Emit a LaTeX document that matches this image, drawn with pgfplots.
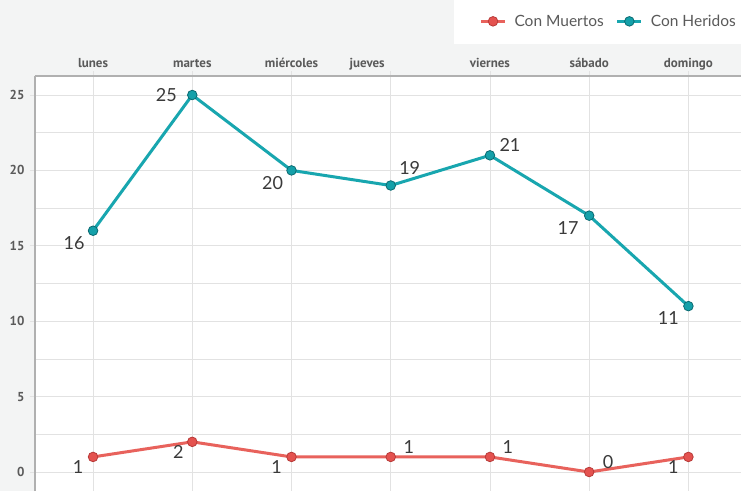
\documentclass[border=0pt]{standalone}
\usepackage{fontspec}
\setmainfont{Lato}
\newfontfamily\tickfont{PT Sans}
\usepackage{pgfplots}
\pgfplotsset{compat=1.18}
\definecolor{bg}{HTML}{F3F4F4}
\definecolor{gridc}{HTML}{E2E2E2}
\definecolor{axisc}{HTML}{B0B0B0}
\definecolor{tickc}{HTML}{5A5A5A}
\definecolor{labc}{HTML}{3A3A3A}
\definecolor{redl}{HTML}{E8625C}
\definecolor{redf}{HTML}{E4524F}
\definecolor{redd}{HTML}{B83A38}
\definecolor{teall}{HTML}{18A6AF}
\definecolor{tealf}{HTML}{14A0A9}
\definecolor{teald}{HTML}{0B6A71}
\begin{document}
\begin{tikzpicture}[x=1pt,y=1pt]
\fill[bg] (0pt,0pt) rectangle (741pt,-491pt);
\fill[white] (454pt,0pt) rectangle (741pt,-44pt);
\begin{axis}[
  at={(35pt,-76pt)}, anchor=north west,
  scale only axis, width=706pt, height=415pt,
  xmin=-0.585, xmax=6.53, ymin=-1.26, ymax=26.26,
  axis x line*=top, axis y line*=left,
  axis line style={draw=axisc, line width=1.3pt},
  axis background/.style={fill=white},
  xtick={0,...,6},
  xticklabels={lunes,martes,miércoles,{\llap{jueves\hspace{6pt}}},viernes,sábado,domingo},
  ytick={0,5,...,25},
  minor ytick={2.5,7.5,...,22.5},
  grid=both,
  grid style={draw=gridc, line width=0.8pt},
  minor grid style={draw=gridc, line width=0.8pt},
  tick align=outside, major tick length=5pt, minor tick length=0pt,
  tick style={draw=gridc, line width=0.8pt},
  /pgf/number format/assume math mode=true,
  ticklabel style={font=\tickfont\bfseries\fontsize{13}{13}\selectfont, text=tickc},
  yticklabel style={xshift=-2pt},
  xticklabel style={text height=9.5pt, text depth=3pt, anchor=south, yshift=-3pt},
  legend columns=2,
  legend style={at={(1,1)}, anchor=south east, yshift=44pt, draw=none, fill=none,
    font=\fontsize{15.5}{16}\selectfont, text=tickc,
    /tikz/every odd column/.append style={column sep=6pt},
    /tikz/every even column/.append style={column sep=10pt}},
  legend image code/.code={\draw[mark repeat=2,mark phase=2] plot coordinates {(0pt,0pt) (12pt,0pt) (24pt,0pt)};},
  clip=false,
  nodes near coords,
  point meta=explicit,
  visualization depends on={value \thisrow{dx}\as\dx},
  visualization depends on={value \thisrow{dy}\as\dy},
  every node near coord/.append style={anchor=center, xshift=\dx pt, yshift=\dy pt,
    font=\fontsize{18}{18}\selectfont, text=labc},
]
\addplot[redl, line width=3pt, mark=*, mark size=4.8pt,
  mark options={fill=redf, draw=redd, line width=0.8pt}]
  table[meta=y] {
x y dx dy
0 1 -15 -10
1 2 -14 -10
2 1 -15 -10
3 1 18 10
4 1 18 10
5 0 19 10
6 1 -15 -10
};
\addlegendentry{Con Muertos}
\addplot[teall, line width=3pt, mark=*, mark size=4.8pt,
  mark options={fill=tealf, draw=teald, line width=0.8pt}]
  table[meta=y] {
x y dx dy
0 16 -19 -12
1 25 -26 0
2 20 -19 -13
3 19 19 18
4 21 20 10
5 17 -21 -12
6 11 -20 -12
};
\addlegendentry{Con Heridos}
\end{axis}
\pgfresetboundingbox
\useasboundingbox (0pt,0pt) rectangle (741pt,-491pt);
\end{tikzpicture}
\end{document}
